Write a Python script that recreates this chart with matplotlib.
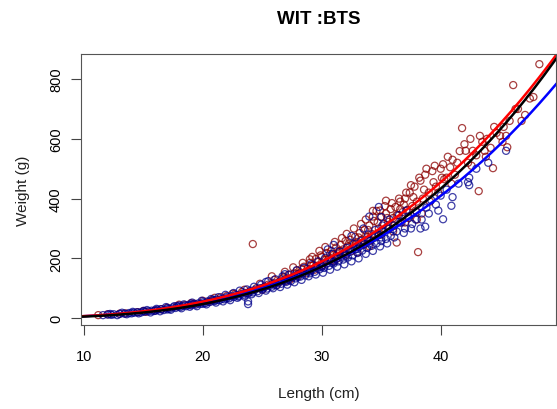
import numpy as np
import matplotlib
matplotlib.use("Agg")
import matplotlib.pyplot as plt

plt.rcParams["font.family"] = ["Liberation Sans", "DejaVu Sans"]

# puntos azules (longitud cm, peso g)
azul_L = [11.6, 12.0, 12.3, 12.5, 13.0, 13.4, 13.8, 14.0, 14.2, 14.5, 14.8, 15.0, 15.1, 15.4, 15.7, 15.9,
          16.0, 16.2, 16.5, 16.7, 17.0, 17.0, 17.2, 17.5, 17.7, 17.9, 18.0, 18.1, 18.3, 18.6, 18.8, 19.0,
          19.0, 19.2, 19.4, 19.6, 19.8, 20.0, 20.0, 20.2, 20.4, 20.6, 20.8, 21.0, 21.0, 21.2, 21.4, 21.6,
          21.8, 22.0, 22.0, 22.2, 22.4, 22.6, 22.8, 23.0, 23.0, 23.2, 23.4, 23.6, 23.8, 23.8, 23.8, 24.0,
          24.0, 24.2, 24.4, 24.6, 24.8, 25.0, 25.0, 25.2, 25.3, 25.4, 25.6, 25.8, 26.0, 26.0, 26.2, 26.4,
          26.6, 26.8, 26.9, 27.0, 27.0, 27.2, 27.4, 27.6, 27.8, 28.0, 28.0, 28.2, 28.4, 28.6, 28.8, 29.0,
          29.0, 29.2, 29.4, 29.6, 29.8, 30.0, 30.0, 30.2, 30.4, 30.6, 30.8, 31.0, 31.0, 31.2, 31.4, 31.6,
          31.8, 32.0, 32.0, 32.2, 32.4, 32.6, 32.8, 33.0, 33.0, 33.2, 33.4, 33.6, 33.8, 34.0, 34.0, 34.2,
          34.4, 34.6, 34.8, 34.8, 35.0, 35.0, 35.0, 35.2, 35.4, 35.6, 35.8, 36.0, 36.0, 36.3, 36.6, 37.0,
          37.3, 37.6, 38.0, 38.4, 38.7, 38.8, 39.2, 39.6, 40.0, 40.2, 40.5, 40.9, 41.0, 41.5, 42.3, 42.4,
          42.4, 43.0, 44.0, 45.5,
          12.2, 12.8, 13.2, 13.6, 14.1, 14.6, 15.3, 15.6, 16.1, 16.4, 16.9, 17.3, 17.6, 18.2, 18.4, 18.9,
          19.1, 19.5, 19.9, 20.3, 20.7, 21.1, 21.3, 21.7, 21.9, 22.3, 22.6, 22.9, 23.1, 23.5, 23.7, 24.1,
          24.3, 24.7, 24.9, 25.3, 25.5, 25.9, 26.1, 26.5, 26.7, 27.1, 27.3, 27.7, 27.9, 28.3, 28.5, 28.9,
          29.1, 29.5, 29.7, 30.1, 30.3, 30.7, 30.9, 31.3, 31.5, 31.9, 32.1, 32.5, 32.7, 33.1, 33.3, 33.7,
          33.9, 34.3, 34.5, 34.9, 35.1, 35.5, 35.7, 36.1, 36.5, 36.9, 37.1, 37.5, 37.9, 38.3, 39.0, 39.8,
          34.0, 33.5, 32.5, 31.0, 30.5]
azul_W = [10, 12, 11, 13, 14, 15, 17, 16, 18, 20, 19, 24, 22, 23, 25, 24,
          25, 28, 30, 27, 33, 29, 31, 36, 34, 39, 42, 37, 41, 40, 44, 43,
          46, 47, 45, 49, 48, 53, 48, 50, 56, 54, 59, 57, 60, 62, 60, 65,
          63, 70, 66, 66, 73, 71, 77, 75, 72, 80, 78, 84, 82, 47, 56, 92,
          88, 86, 95, 90, 100, 96, 101, 104, 121, 99, 108, 105, 116, 112, 110, 120,
          115, 126, 147, 121, 126, 130, 124, 138, 133, 146, 138, 139, 150, 143, 157, 150,
          156, 162, 155, 170, 163, 176, 170, 168, 183, 175, 190, 183, 188, 198, 190, 205,
          196, 214, 208, 203, 222, 210, 230, 218, 232, 240, 226, 248, 235, 258, 250, 242,
          268, 250, 278, 372, 258, 270, 338, 290, 265, 300, 275, 310, 298, 290, 320, 300,
          340, 315, 355, 330, 306, 370, 395, 380, 410, 331, 430, 376, 405, 450, 455, 470,
          445, 500, 520, 560,
          14, 10, 18, 13, 21, 16, 27, 19, 31, 23, 37, 28, 40, 33, 46, 38,
          52, 40, 58, 46, 64, 52, 70, 56, 78, 60, 84, 68, 92, 72, 96, 80,
          105, 84, 112, 92, 124, 100, 130, 104, 140, 112, 146, 120, 160, 128, 168, 140,
          180, 146, 190, 152, 202, 162, 215, 172, 222, 180, 235, 190, 248, 200, 258, 215,
          280, 225, 295, 240, 310, 250, 330, 270, 345, 285, 360, 300, 330, 300, 350, 360,
          340, 300, 275, 245, 230]

# puntos rojos (longitud cm, peso g)
rojo_L = [11.2, 12.0, 13.5, 14.5, 15.2, 16.0, 17.0, 17.8, 18.5, 19.3, 20.0, 20.5, 20.8, 21.5, 22.0, 22.5,
          22.7, 23.3, 23.8, 24.2, 24.5, 25.0, 25.2, 25.5, 26.0, 26.4, 26.6, 26.8, 27.2, 27.5, 27.7, 27.9,
          28.2, 28.3, 28.5, 28.8, 29.0, 29.0, 29.1, 29.3, 29.5, 29.7, 29.9, 30.0, 30.2, 30.4, 30.6, 30.7,
          30.8, 31.0, 31.2, 31.4, 31.5, 31.5, 31.6, 31.8, 32.0, 32.2, 32.3, 32.4, 32.6, 32.8, 33.0, 33.1,
          33.2, 33.4, 33.6, 33.8, 33.9, 34.0, 34.2, 34.3, 34.4, 34.6, 34.7, 34.8, 35.0, 35.2, 35.4, 35.4,
          35.5, 35.6, 35.8, 36.0, 36.2, 36.3, 36.3, 36.4, 36.6, 36.6, 36.8, 36.9, 37.0, 37.2, 37.4, 37.6,
          37.7, 37.8, 38.0, 38.1, 38.3, 38.5, 38.6, 38.7, 39.0, 39.3, 39.4, 39.6, 40.0, 40.2, 40.3, 40.5,
          40.8, 41.0, 41.2, 41.6, 41.8, 42.0, 42.3, 42.5, 42.7, 43.0, 43.2, 43.5, 43.7, 43.9, 44.2, 44.4,
          44.7, 45.0, 45.2, 45.3, 45.6, 45.8, 46.1, 46.5, 47.1, 47.5, 48.3,
          25.8, 26.2, 26.9, 27.3, 27.6, 28.0, 28.4, 28.7, 29.2, 29.4, 29.8, 30.1, 30.3, 30.9, 31.1, 31.3,
          31.7, 31.9, 32.1, 32.5, 32.7, 32.9, 33.3, 33.5, 33.7, 34.1, 34.3, 34.5, 34.9, 35.1, 35.3, 35.7,
          35.9, 36.1, 36.5, 36.7, 37.1, 37.3, 37.5, 37.9, 38.2, 38.4, 38.8, 39.1, 39.5, 39.8, 40.1, 40.6,
          40.9, 41.4, 42.1, 42.6, 43.3, 43.8, 44.5, 45.5, 46.3, 46.8, 47.8, 33.0, 34.0, 35.0, 36.0, 37.0,
          38.0, 32.0, 31.0, 30.0, 29.0, 28.0, 27.0, 26.0, 24.8, 23.5, 21.0, 19.0, 18.0, 16.5, 15.0, 13.0]
rojo_W = [10, 13, 16, 20, 21, 26, 35, 40, 44, 48, 58, 55, 62, 70, 74, 82,
          80, 88, 85, 248, 100, 95, 105, 112, 128, 120, 130, 138, 145, 135, 150, 160,
          152, 165, 172, 165, 185, 197, 175, 178, 198, 188, 210, 205, 195, 218, 200, 215,
          225, 212, 236, 220, 225, 225, 245, 230, 258, 240, 250, 262, 248, 272, 255, 270,
          285, 262, 295, 270, 295, 310, 282, 359, 325, 359, 320, 300, 340, 315, 350, 393,
          335, 322, 365, 335, 372, 253, 345, 345, 390, 365, 355, 380, 400, 362, 420, 375,
          405, 440, 390, 221, 460, 400, 430, 480, 420, 492, 455, 440, 500, 515, 465, 470,
          505, 530, 480, 559, 636, 582, 520, 600, 560, 545, 425, 590, 560, 600, 570, 502,
          620, 610, 590, 640, 572, 660, 780, 700, 680, 735, 850,
          140, 110, 155, 128, 170, 142, 185, 150, 205, 162, 225, 178, 238, 195, 255, 200,
          268, 215, 282, 225, 300, 238, 315, 245, 330, 260, 340, 275, 360, 290, 375, 300,
          385, 310, 400, 320, 420, 335, 445, 360, 470, 350, 500, 390, 510, 420, 470, 540,
          450, 520, 560, 510, 610, 540, 640, 610, 700, 660, 740, 220, 240, 280, 290, 320,
          330, 210, 190, 175, 160, 148, 125, 115, 115, 95, 68, 50, 45, 30, 24, 15]

# parametros W = a * L^b
a_negro, b_negro = 0.003236, 3.20
a_rojo, b_rojo = 0.00613, 3.04
a_azul, b_azul = 0.00663, 2.99

fig = plt.figure(figsize=(5.57, 4.10), dpi=100)
ax = fig.add_axes([81 / 557, 84 / 410, 475 / 557, 271 / 410])

ax.scatter(rojo_L, rojo_W, s=26, facecolors="none", edgecolors="#8B0000", linewidths=0.9, alpha=0.75)
ax.scatter(azul_L, azul_W, s=26, facecolors="none", edgecolors="#00008B", linewidths=0.9, alpha=0.75)

L = np.linspace(9.75, 49.7, 200)
ax.plot(L, a_azul * L ** b_azul, color="#0000FF", lw=1.8)
ax.plot(L, a_rojo * L ** b_rojo, color="#FF0000", lw=1.8)
ax.plot(L, a_negro * L ** b_negro, color="black", lw=1.8)

ax.set_xlim(9.75, 49.7)
ax.set_ylim(-23, 884)
ax.set_xticks([10, 20, 30, 40])
ax.set_yticks([0, 200, 400, 600, 800])
ax.tick_params(axis="x", length=7, pad=10, labelsize=10.5, color="#444444")
ax.tick_params(axis="y", length=7, pad=6, labelsize=10.5, color="#444444")
for lab in ax.get_yticklabels():
    lab.set_rotation(90)
    lab.set_va("center")
for s in ax.spines.values():
    s.set_color("#555555")

ax.set_xlabel("Length (cm)", fontsize=11, labelpad=17, color="#222222")
ax.set_ylabel("Weight (g)", fontsize=11, labelpad=14, color="#222222")
ax.set_title("WIT :BTS", fontsize=13.5, fontweight="bold", pad=22)

plt.savefig("out.png", dpi=100)
